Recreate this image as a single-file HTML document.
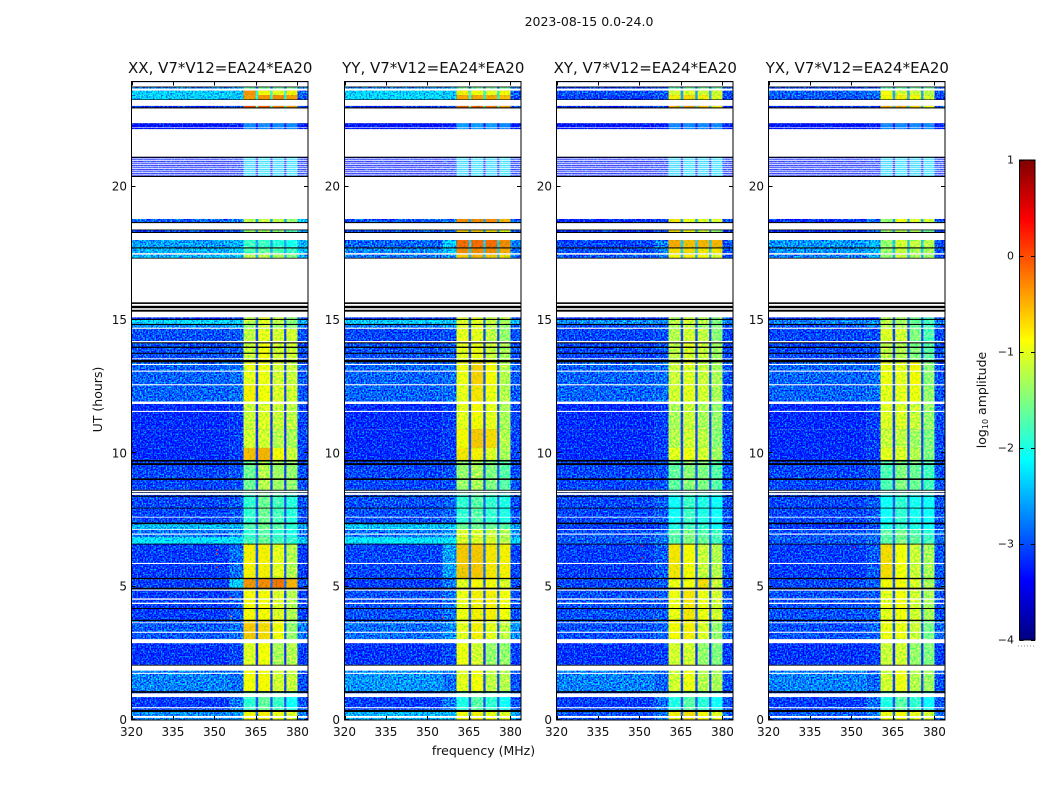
<!DOCTYPE html>
<html>
<head>
<meta charset="utf-8">
<title>2023-08-15 0.0-24.0</title>
<style>
html,body{margin:0;padding:0;background:#fff;}
svg{display:block;font-family:"DejaVu Sans","Liberation Sans",sans-serif;}
</style>
</head>
<body>
<svg id="chart" width="1050" height="800" viewBox="0 0 1050 800" xmlns="http://www.w3.org/2000/svg">
<defs>
<filter id="speckle" filterUnits="objectBoundingBox" x="0" y="0" width="1" height="1" color-interpolation-filters="sRGB">
<feTurbulence type="fractalNoise" baseFrequency="0.62" numOctaves="1" seed="4" result="n"/>
<feColorMatrix in="n" type="matrix" values="0 0 0 0 0.5  2.4 0 0 0 -0.7  0 0 0 0 0.5  0 0 0 0 1" result="g"/>
<feComposite in="SourceGraphic" in2="g" operator="arithmetic" k1="0" k2="1" k3="1" k4="-0.5" result="m"/>
<feComposite in="m" in2="SourceAlpha" operator="in"/>
</filter>
<filter id="speckle-soft" filterUnits="objectBoundingBox" x="0" y="0" width="1" height="1" color-interpolation-filters="sRGB">
<feTurbulence type="fractalNoise" baseFrequency="0.5" numOctaves="1" seed="9" result="n"/>
<feColorMatrix in="n" type="matrix" values="1.4 0 0 0 -0.2  0 0 0 0 0.5  0 0 0 0 0.5  0 0 0 0 1" result="g"/>
<feComposite in="SourceGraphic" in2="g" operator="arithmetic" k1="0" k2="1" k3="1" k4="-0.5" result="m"/>
<feComposite in="m" in2="SourceAlpha" operator="in"/>
</filter>
</defs>
<text x="589" y="26" font-size="12.5" text-anchor="middle" fill="#111">2023-08-15 0.0-24.0</text>
<text x="483.5" y="755" font-size="12.5" text-anchor="middle" fill="#111">frequency (MHz)</text>
<text transform="translate(102,399.5) rotate(-90)" font-size="12.5" text-anchor="middle" fill="#111">UT (hours)</text>
<text transform="translate(986,400) rotate(-90)" font-size="12.5" text-anchor="middle" fill="#111">log<tspan font-size="8" dy="2">10</tspan><tspan dy="-2"> amplitude</tspan></text>
<g id="panels"></g>
<g id="colorbar"></g>
</svg>
<script>
// ---- data (hours, MHz, log10 amplitude) ----
const panelNames = ["XX", "YY", "XY", "YX"];
const baselineLabel = "V7*V12=EA24*EA20";
const freqTicks = [320, 335, 350, 365, 380];
const timeTicks = [0, 5, 10, 15, 20];
const colorTicks = [1, 0, -1, -2, -3, -4];
const freqEdges = [320, 355.5, 360.5, 364.9, 365.8, 370.2, 371.0, 375.2, 376.0, 380, 383.8];
const columnField = [0, 1, 2, 3, 4, 3, 5, 3, 6, 7];
const timeBlocks = [
[23.94,23.91],[23.75,23.67],[23.60,23.43],[23.43,23.25],[23.03,22.95],[22.38,22.15],[21.11,20.37],
[18.79,18.67],[18.39,18.29],[18.0,17.72],[17.72,17.50],[17.45,17.31],[15.10,15.0],[15.0,14.85],
[14.85,14.67],[14.67,14.16],[14.16,13.5],[13.5,12.55],[12.55,11.85],[11.85,10.9],[10.9,10.2],
[10.2,9.75],[9.75,8.63],[8.63,7.40],[7.40,7.16],[7.16,6.85],[6.85,6.61],[6.61,5.28],[5.28,4.96],
[4.96,3.71],[3.71,3.03],[3.03,2.07],[2.07,1.08],[1.08,0.38],[0.38,0]
];
// each row: background, near-band, band1, notch, band2, band3, band4, out-of-band
const levelsXX = [
[-3.2,-3.2,-1.2,-2.5,-1.2,-1.3,-1.2,-3.2],
[-2.7,-2.6,-1.7,-2.5,-1.6,-1.6,-1.6,-2.8],
[-2.35,-2.4,-0.35,-1.6,-0.85,-1.0,-0.8,-2.9],
[-2.35,-2.4,-0.4,-1.6,-0.35,-0.3,-0.4,-3.0],
[-3.2,-3.1,0.0,-1.5,-0.1,-0.25,-0.4,-3.1],
[-3.4,-3.3,-2.7,-2.9,-2.7,-2.7,-2.7,-3.3],
[-3.4,-3.3,-2.35,-3.0,-2.3,-2.35,-2.3,-3.3],
[-2.9,-2.8,-1.25,-2.2,-1.2,-1.2,-1.4,-2.3],
[-3.1,-2.9,-1.35,-2.3,-1.3,-1.4,-1.75,-2.6],
[-2.6,-2.5,-1.85,-2.2,-1.85,-1.95,-2.05,-2.5],
[-2.5,-2.4,-1.75,-2.1,-1.65,-1.75,-1.85,-2.4],
[-2.5,-2.4,-1.25,-2.1,-1.25,-1.3,-1.5,-2.5],
[-3.2,-3.1,-1.2,-2.6,-1.05,-1.2,-1.4,-3.0],
[-2.3,-2.4,-1.2,-2.4,-1.0,-1.2,-1.45,-2.5],
[-2.7,-2.6,-1.4,-2.6,-1.2,-1.35,-1.5,-2.8],
[-3.0,-2.95,-1.2,-2.7,-1.0,-1.1,-1.1,-3.0],
[-3.0,-2.95,-1.15,-2.7,-0.9,-1.1,-1.1,-3.0],
[-2.9,-2.85,-1.0,-2.7,-0.95,-1.1,-1.15,-2.95],
[-2.9,-2.85,-0.8,-2.7,-0.9,-1.05,-1.1,-2.95],
[-3.2,-3.1,-1.15,-2.8,-1.05,-1.15,-1.2,-3.05],
[-3.2,-3.1,-1.1,-2.8,-1.1,-1.25,-1.3,-3.05],
[-3.2,-3.1,-0.55,-2.8,-0.5,-0.85,-1.15,-3.05],
[-3.05,-3.0,-1.6,-2.7,-1.25,-1.35,-1.4,-3.0],
[-3.05,-2.95,-1.9,-2.6,-1.6,-1.8,-1.95,-3.0],
[-2.45,-2.45,-1.75,-2.4,-1.55,-1.7,-1.9,-2.6],
[-2.8,-2.7,-1.9,-2.4,-1.7,-1.9,-2.0,-2.8],
[-2.2,-2.2,-1.8,-2.2,-1.6,-1.8,-1.9,-2.4],
[-3.1,-2.85,-0.8,-2.6,-0.8,-1.0,-1.25,-3.1],
[-3.1,-2.35,-0.35,-2.5,-0.3,-0.2,-0.5,-3.0],
[-3.1,-2.95,-0.85,-2.7,-0.85,-1.05,-1.25,-3.1],
[-2.95,-2.85,-0.6,-2.6,-0.7,-0.9,-1.4,-2.8],
[-3.15,-3.05,-1.05,-2.8,-0.9,-1.3,-1.25,-3.1],
[-2.75,-2.85,-0.9,-2.7,-0.85,-1.1,-1.15,-3.0],
[-3.1,-2.8,-1.9,-2.6,-1.65,-1.85,-2.1,-3.0],
[-2.7,-2.6,-0.85,-2.5,-0.8,-0.95,-1.05,-2.8]
];
const levelsYY = [
[-3.2,-3.2,-1.2,-2.5,-1.2,-1.3,-1.2,-3.2],
[-2.7,-2.6,-1.6,-2.5,-1.6,-1.6,-1.6,-2.8],
[-2.3,-2.4,-0.8,-1.6,-0.9,-1.0,-0.85,-2.9],
[-2.3,-2.4,-0.45,-1.6,-0.45,-0.45,-0.55,-3.0],
[-3.2,-3.1,-0.1,-1.5,-0.1,-0.2,-0.4,-3.1],
[-3.4,-3.3,-2.6,-2.9,-2.6,-2.6,-2.7,-3.3],
[-3.4,-3.3,-2.35,-3.0,-2.3,-2.35,-2.3,-3.3],
[-3.0,-2.9,-0.3,-2.2,-0.3,-0.3,-0.5,-2.9],
[-3.0,-2.9,-0.6,-2.2,-0.6,-0.7,-1.0,-2.9],
[-2.9,-2.4,-0.15,-2.0,-0.15,-0.15,-0.3,-2.8],
[-2.7,-2.4,-0.3,-2.0,-0.3,-0.3,-0.45,-2.8],
[-2.8,-2.6,-0.6,-2.1,-0.5,-0.6,-0.7,-2.8],
[-3.2,-3.1,-1.1,-2.6,-1.0,-1.15,-1.15,-3.0],
[-2.35,-2.4,-1.05,-2.4,-1.0,-1.15,-1.3,-2.5],
[-2.8,-2.7,-1.05,-2.6,-1.05,-1.25,-1.4,-2.8],
[-3.05,-3.0,-1.0,-2.7,-1.0,-1.2,-1.4,-3.0],
[-3.0,-2.95,-1.0,-2.7,-0.95,-1.15,-1.3,-3.0],
[-2.9,-2.85,-0.95,-2.6,-0.65,-0.85,-1.25,-2.95],
[-2.9,-2.85,-1.0,-2.6,-0.75,-0.95,-1.25,-2.95],
[-3.2,-3.1,-1.0,-2.7,-0.85,-1.0,-1.3,-3.05],
[-3.2,-3.1,-0.85,-2.7,-0.6,-0.7,-1.25,-3.05],
[-3.2,-3.1,-0.75,-2.7,-0.8,-1.05,-1.3,-3.05],
[-3.05,-3.0,-1.4,-2.6,-1.3,-1.5,-1.7,-3.0],
[-3.0,-2.9,-1.9,-2.5,-1.7,-1.9,-2.0,-3.0],
[-2.4,-2.4,-1.6,-2.4,-1.6,-1.6,-1.7,-2.6],
[-2.8,-2.7,-1.05,-2.3,-1.05,-1.15,-1.25,-2.7],
[-2.15,-2.15,-1.05,-2.2,-1.05,-1.05,-1.25,-2.3],
[-3.05,-2.6,-0.6,-2.5,-0.6,-0.75,-0.8,-3.05],
[-3.1,-2.85,-1.0,-2.6,-0.85,-0.85,-1.05,-3.0],
[-3.0,-2.85,-0.95,-2.6,-0.8,-0.8,-0.9,-3.0],
[-2.85,-2.7,-1.0,-2.6,-0.8,-1.0,-1.2,-2.7],
[-3.15,-3.05,-0.95,-2.8,-1.1,-1.4,-1.4,-3.1],
[-2.65,-2.85,-1.0,-2.7,-0.9,-1.2,-1.25,-3.0],
[-3.1,-2.8,-2.0,-2.6,-1.7,-1.9,-2.1,-3.0],
[-2.5,-2.45,-0.9,-2.4,-0.8,-0.95,-1.0,-2.6]
];
const levelsXY = [
[-3.3,-3.3,-1.5,-2.6,-1.5,-1.6,-1.5,-3.3],
[-3.1,-3.0,-1.7,-2.5,-1.6,-1.6,-1.6,-3.0],
[-3.0,-2.95,-1.1,-2.2,-1.05,-1.1,-1.1,-3.0],
[-3.1,-3.0,-0.8,-2.2,-0.7,-0.8,-1.05,-3.1],
[-3.2,-3.1,-0.45,-2.0,-0.35,-0.55,-0.8,-3.1],
[-3.4,-3.3,-2.7,-2.9,-2.7,-2.7,-2.7,-3.3],
[-3.4,-3.3,-2.35,-3.0,-2.3,-2.35,-2.3,-3.3],
[-3.2,-3.1,-0.75,-2.2,-0.95,-1.05,-1.1,-3.0],
[-3.2,-3.1,-0.7,-2.2,-0.85,-1.1,-1.4,-3.1],
[-3.05,-2.75,-0.45,-2.0,-0.55,-0.5,-0.5,-3.0],
[-3.0,-2.75,-0.7,-2.0,-0.7,-0.75,-0.75,-3.0],
[-3.0,-2.8,-0.85,-2.1,-0.8,-0.85,-1.05,-3.0],
[-3.2,-3.1,-1.3,-2.6,-1.1,-1.3,-1.4,-3.0],
[-2.7,-2.7,-1.2,-2.4,-1.1,-1.2,-1.5,-2.8],
[-3.0,-2.9,-1.3,-2.6,-1.2,-1.4,-1.5,-3.0],
[-3.05,-3.0,-1.25,-2.7,-1.1,-1.2,-1.45,-3.05],
[-3.05,-3.0,-1.2,-2.7,-1.05,-1.15,-1.35,-3.05],
[-2.9,-2.85,-1.15,-2.6,-1.05,-1.15,-1.3,-3.0],
[-2.9,-2.85,-1.1,-2.6,-1.0,-1.1,-1.3,-3.0],
[-3.2,-3.1,-1.3,-2.7,-1.15,-1.3,-1.4,-3.05],
[-3.2,-3.1,-1.25,-2.7,-1.1,-1.2,-1.45,-3.05],
[-3.2,-3.1,-1.0,-2.7,-0.95,-1.1,-1.35,-3.05],
[-3.05,-3.0,-1.65,-2.6,-1.45,-1.5,-1.7,-3.0],
[-3.05,-2.95,-2.1,-2.5,-1.85,-2.0,-2.1,-3.0],
[-3.1,-3.0,-2.0,-2.5,-1.8,-1.9,-2.1,-3.0],
[-3.0,-2.9,-1.7,-2.4,-1.5,-1.7,-1.8,-2.9],
[-2.95,-2.85,-1.7,-2.4,-1.5,-1.6,-1.8,-2.9],
[-3.1,-2.95,-0.75,-2.6,-0.85,-1.15,-1.25,-3.0],
[-3.05,-2.95,-0.95,-2.6,-0.9,-0.7,-1.15,-3.0],
[-3.0,-2.95,-0.95,-2.6,-0.75,-0.95,-1.1,-3.0],
[-3.0,-2.9,-0.85,-2.6,-0.8,-1.05,-1.4,-2.9],
[-3.15,-3.1,-1.1,-2.8,-1.1,-1.4,-1.5,-3.1],
[-2.75,-2.9,-1.1,-2.7,-0.95,-1.25,-1.3,-3.0],
[-3.1,-2.85,-2.0,-2.6,-1.7,-1.95,-2.1,-3.0],
[-3.0,-2.8,-0.8,-2.5,-0.7,-0.85,-1.0,-2.9]
];
const levelsYX = [
[-3.3,-3.3,-1.5,-2.6,-1.5,-1.6,-1.5,-3.3],
[-3.1,-3.0,-1.7,-2.5,-1.6,-1.6,-1.6,-3.0],
[-2.9,-2.8,-0.95,-2.2,-1.1,-1.1,-1.2,-3.0],
[-3.0,-2.9,-0.85,-2.2,-0.8,-0.85,-1.1,-3.1],
[-3.2,-3.1,-0.45,-2.0,-0.45,-0.65,-0.9,-3.1],
[-3.4,-3.3,-2.7,-2.9,-2.7,-2.7,-2.7,-3.3],
[-3.4,-3.3,-2.35,-3.0,-2.3,-2.35,-2.3,-3.3],
[-3.2,-2.9,-1.4,-2.2,-0.95,-1.1,-1.1,-3.0],
[-3.2,-2.9,-1.4,-2.2,-1.2,-1.3,-1.6,-3.1],
[-2.65,-2.5,-1.4,-2.0,-1.1,-1.2,-1.25,-3.0],
[-2.65,-2.5,-1.4,-2.0,-1.15,-1.3,-1.3,-3.0],
[-2.75,-2.6,-1.4,-2.1,-1.15,-1.3,-1.35,-3.0],
[-3.2,-3.1,-1.25,-2.6,-1.25,-1.6,-1.8,-3.0],
[-2.75,-2.7,-1.2,-2.4,-1.3,-1.6,-1.8,-2.8],
[-3.0,-2.9,-1.25,-2.6,-1.3,-1.6,-1.8,-3.0],
[-3.05,-3.0,-1.05,-2.7,-1.1,-1.5,-1.75,-3.05],
[-3.05,-3.0,-1.2,-2.7,-1.25,-1.5,-1.7,-3.05],
[-2.9,-2.85,-0.95,-2.6,-1.0,-0.85,-1.45,-3.0],
[-2.9,-2.85,-1.0,-2.6,-1.0,-0.95,-1.4,-3.0],
[-3.2,-3.1,-1.05,-2.7,-1.05,-1.15,-1.4,-3.05],
[-3.2,-3.1,-1.15,-2.7,-1.2,-1.35,-1.5,-3.05],
[-3.2,-3.1,-1.0,-2.7,-1.05,-1.25,-1.5,-3.05],
[-3.05,-3.0,-1.75,-2.6,-1.5,-1.6,-1.8,-3.0],
[-3.05,-2.95,-2.1,-2.5,-1.9,-2.05,-2.1,-3.0],
[-3.1,-3.0,-2.0,-2.5,-1.9,-2.0,-2.1,-3.0],
[-3.0,-2.9,-1.7,-2.4,-1.55,-1.7,-1.9,-2.9],
[-2.95,-2.85,-1.7,-2.4,-1.55,-1.65,-1.8,-2.9],
[-3.1,-2.95,-0.7,-2.6,-0.9,-1.15,-1.3,-3.0],
[-3.05,-2.95,-0.85,-2.6,-0.85,-1.05,-1.3,-3.0],
[-3.0,-2.95,-1.0,-2.6,-0.9,-1.1,-1.3,-3.0],
[-3.0,-2.9,-0.95,-2.6,-0.95,-1.15,-1.55,-2.9],
[-3.15,-3.1,-1.15,-2.8,-1.1,-1.4,-1.5,-3.1],
[-2.75,-2.9,-1.1,-2.7,-0.95,-1.25,-1.35,-3.0],
[-3.1,-2.85,-2.0,-2.6,-1.7,-1.9,-2.15,-3.0],
[-2.95,-2.8,-0.95,-2.5,-0.85,-1.0,-1.1,-2.9]
];
const panelLevels = [levelsXX, levelsYY, levelsXY, levelsYX];
// notch channels read about this much lower than the row's notch estimate
const notchDepth = 0.35;
// white (no data) intervals, hours
const gapTimes = [
[23.91,23.75],[23.67,23.60],[23.25,23.03],[22.95,22.38],[22.22,22.20],[22.15,21.10],
[21.06,21.02],[20.99,20.95],[20.91,20.87],[20.84,20.80],[20.76,20.72],[20.69,20.65],[20.61,20.57],[20.54,20.50],[20.46,20.42],
[20.37,18.79],[18.67,18.39],[18.29,18.0],[17.50,17.45],[17.31,15.66],[15.60,15.53],[15.44,15.38],[15.31,15.10],
[14.71,14.67],[14.21,14.16],[13.56,13.53],[13.35,13.31],[13.10,13.06],[12.59,12.55],[11.94,11.85],[11.59,11.55],
[8.60,8.54],[8.51,8.44],[7.62,7.59],[7.16,7.13],[6.99,6.95],[5.89,5.85],[4.89,4.85],[4.56,4.51],[4.40,4.35],
[3.66,3.63],[3.31,3.27],[3.03,2.88],[2.04,1.85],[1.77,1.73],[1.00,0.86],[0.48,0.44],[0.15,0.08]
];
// black (flagged) intervals, hours
const flagTimes = [
[23.75,23.72],[23.27,23.25],[22.97,22.93],[21.12,21.08],[20.40,20.36],[18.67,18.63],[18.39,18.36],[18.30,18.26],
[17.72,17.68],[17.33,17.30],[15.66,15.60],[15.53,15.44],[15.38,15.31],[15.04,15.00],[14.85,14.81],[14.16,14.12],
[14.00,13.95],[13.77,13.73],[13.50,13.41],[9.75,9.69],[9.63,9.56],[9.06,9.00],[8.63,8.60],[8.53,8.51],[8.41,8.37],
[7.96,7.93],[7.40,7.34],[6.61,6.58],[5.33,5.28],[4.96,4.90],[4.20,4.16],[3.76,3.71],[2.07,2.04],[1.08,1.02],[0.375,0.30]
];
// isolated bright channels: panel, MHz, hour, log10 amplitude
const brightSpots = [
[0,350.7,6.4,0.2],[0,350.7,6.25,0.2],[0,350.7,5.9,-0.3],[0,350.7,5.75,0.1],[0,355.8,4.62,0.3],[0,355.8,3.92,-0.4],[0,355.8,3.78,-0.4],[0,320.8,2.95,-0.4],
[1,321,5.9,0.1],[1,347,6.0,-0.5],[1,355.5,3.87,0.2],[1,355.5,4.6,0.2],
[2,350.7,6.55,0.2],[2,350.7,6.1,0.2],[2,350.7,5.9,0.2],[2,321,5.9,-0.6],[2,355.8,4.6,0.3],[2,355.8,3.8,-0.3],
[3,355.5,4.6,0.2],[3,350.7,6.5,0.2]
];

// ---- scales ----
const panelLeft = [131.5, 344.5, 556.5, 768.5];
const panelWidth = 176.5;
const panelTop = 81.5;
const panelBottom = 720;
const freqMin = 320, freqMax = 383.8, timeMin = 0, timeMax = 23.94;
const NS = "http://www.w3.org/2000/svg";
function xScale(panel, f) { return panelLeft[panel] + (f - freqMin) / (freqMax - freqMin) * panelWidth; }
function yScale(t) { return panelBottom - (t - timeMin) / (timeMax - timeMin) * (panelBottom - panelTop); }
function jet(level) {
  const v = Math.max(0, Math.min(1, (level + 4) / 5));
  const c = x => Math.round(255 * Math.max(0, Math.min(1, x)));
  const r = c(Math.min(4 * v - 1.5, -4 * v + 4.5));
  const g = c(Math.min(4 * v - 0.5, -4 * v + 3.5));
  const b = c(Math.min(4 * v + 0.5, -4 * v + 2.5));
  return "rgb(" + r + "," + g + "," + b + ")";
}
function make(tag, attrs, parent) {
  const el = document.createElementNS(NS, tag);
  for (const k in attrs) el.setAttribute(k, attrs[k]);
  parent.appendChild(el);
  return el;
}

// ---- panels ----
const root = document.getElementById("panels");
panelNames.forEach(function (name, p) {
  const g = make("g", {}, root);
  
  

  const heat = make("g", { filter: "url(#speckle)" }, g);
  
  
  const heatBand = make("g", { filter: "url(#speckle-soft)" }, g);
  
  
  timeBlocks.forEach(function (block, b) {
    const row = panelLevels[p][b];
    columnField.forEach(function (field, c) {
      const x0 = xScale(p, freqEdges[c]);
      const x1 = xScale(p, freqEdges[c + 1]);
      const y0 = yScale(block[0]);
      const y1 = yScale(block[1]);
      const parent = (c >= 2 && c <= 8) ? heatBand : heat;
      const level = field === 3 ? row[field] - notchDepth : row[field];
      const cell = make("rect", { x: x0, y: y0, width: x1 - x0, height: y1 - y0, fill: jet(level) }, parent);
      
      
    });
  });
  brightSpots.filter(function (s) { return s[0] === p; }).forEach(function (s) {
    const spot = make("rect", { x: xScale(p, s[1]), y: yScale(s[2]), width: 1.4, height: 1.6, fill: jet(s[3]) }, g);
    
    
  });
  gapTimes.forEach(function (gap) {
    const r = make("rect", { x: xScale(p, freqMin), y: yScale(gap[0]), width: panelWidth, height: yScale(gap[1]) - yScale(gap[0]), fill: "#fff" }, g);
    
    
  });
  flagTimes.forEach(function (flag) {
    const r = make("rect", { x: xScale(p, freqMin), y: yScale(flag[0]), width: panelWidth, height: yScale(flag[1]) - yScale(flag[0]), fill: "#000" }, g);
    
    
  });

  const frame = make("rect", { x: panelLeft[p], y: panelTop, width: panelWidth, height: panelBottom - panelTop, fill: "none", stroke: "#000", "stroke-width": 1 }, g);
  
  

  freqTicks.forEach(function (f) {
    const x = Math.round(xScale(p, f)) + 0.5;
    const t1 = make("line", { x1: x, x2: x, y1: panelBottom, y2: panelBottom - 4, stroke: "#000" }, g);
    
    
    const t2 = make("line", { x1: x, x2: x, y1: panelTop, y2: panelTop + 4, stroke: "#000" }, g);
    
    
    const lab = make("text", { x: xScale(p, f), y: 736, "font-size": 12, "text-anchor": "middle", fill: "#111" }, g);
    
    
    lab.textContent = f;
  });
  timeTicks.forEach(function (t) {
    const y = Math.round(yScale(t)) - 0.5;
    const t1 = make("line", { x1: panelLeft[p], x2: panelLeft[p] + 4, y1: y, y2: y, stroke: "#000" }, g);
    
    
    const t2 = make("line", { x1: panelLeft[p] + panelWidth, x2: panelLeft[p] + panelWidth - 4, y1: y, y2: y, stroke: "#000" }, g);
    
    
    const lab = make("text", { x: panelLeft[p] - 4.5, y: yScale(t) + 4, "font-size": 12, "text-anchor": "end", fill: "#111" }, g);
    
    
    lab.textContent = t;
  });

  const title = make("text", { x: panelLeft[p] + panelWidth / 2 + 0.5, y: 73, "font-size": 15, "text-anchor": "middle", fill: "#111" }, g);
  
  
  title.textContent = name + ", " + baselineLabel;
});

// ---- colorbar ----
const cb = document.getElementById("colorbar");
const cbLeft = 1019.5, cbWidth = 15.5, cbTop = 160, cbBottom = 640, cbMax = 1, cbMin = -4;
function cbScale(v) { return cbTop + (cbMax - v) / (cbMax - cbMin) * (cbBottom - cbTop); }
for (let i = 0; i < 240; i++) {
  const level = cbMax - (i + 0.5) / 240 * (cbMax - cbMin);
  const s = make("rect", { x: cbLeft, y: cbTop + i * 2, width: cbWidth, height: 2.2, fill: jet(level) }, cb);
  
  
}
const cbFrame = make("rect", { x: cbLeft, y: cbTop, width: cbWidth, height: cbBottom - cbTop, fill: "none", stroke: "#000" }, cb);


colorTicks.forEach(function (v) {
  const y = Math.round(cbScale(v)) + 0.5;
  const t1 = make("line", { x1: cbLeft, x2: cbLeft + 4, y1: y, y2: y, stroke: "#000" }, cb);
  
  
  const t2 = make("line", { x1: cbLeft + cbWidth, x2: cbLeft + cbWidth - 4, y1: y, y2: y, stroke: "#000" }, cb);
  
  
  const lab = make("text", { x: 1014, y: cbScale(v) + 3.5, "font-size": 11, "text-anchor": "end", fill: "#111" }, cb);
  
  
  lab.textContent = v < 0 ? "\u2212" + Math.abs(v) : String(v);
});
const dots = make("line", { x1: 1018, x2: 1035, y1: 646, y2: 646, stroke: "#888", "stroke-width": 1, "stroke-dasharray": "1 2" }, cb);


</script>
</body>
</html>
